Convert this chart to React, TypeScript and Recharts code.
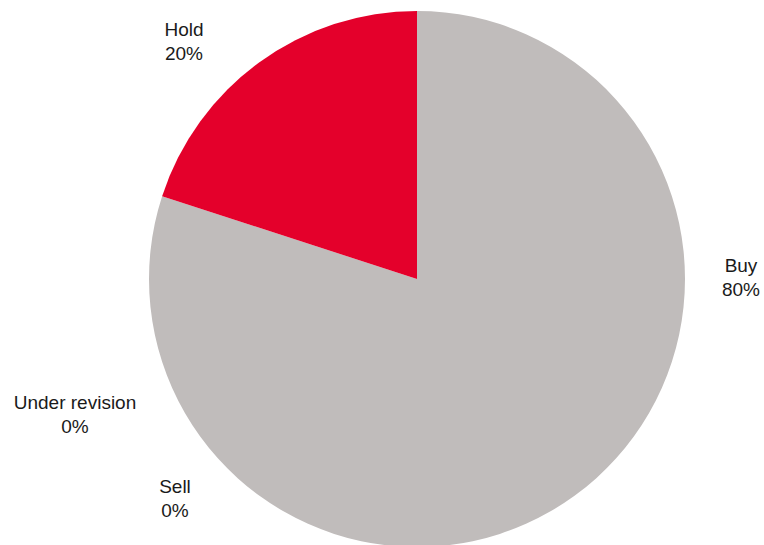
import React from 'react';
import { PieChart, Pie, Cell } from 'recharts';

const categories = ['Buy', 'Hold', 'Sell', 'Under revision'];
const shares = [80, 20, 0, 0];
const colors = ['#C0BCBB', '#E4002B', '#C0BCBB', '#C0BCBB'];

// label anchor offsets from the pie centre (text centre, first baseline)
const labelOffsets: Record<string, [number, number]> = {
  Buy: [324, -7],
  Hold: [-233, -243],
  Sell: [-242, 214],
  'Under revision': [-342, 130],
};

const data = categories.map((name, i) => ({ name, value: shares[i] }));

const renderLabel = (props: any) => {
  const { cx, cy, name, value } = props;
  const off = labelOffsets[name];
  if (!off) return null;
  const x = cx + off[0];
  const y = cy + off[1];
  return (
    <text
      key={name}
      x={x}
      y={y}
      textAnchor="middle"
      fill="#1a1a1a"
      fontSize={19}
      fontFamily="'Liberation Sans', Arial, sans-serif"
    >
      <tspan x={x} dy={0}>{name}</tspan>
      <tspan x={x} dy={24}>{`${value}%`}</tspan>
    </text>
  );
};

export default function App() {
  return (
    <div style={{ position: 'absolute', left: 0, top: 0, width: 764, height: 545, background: '#fff' }}>
      <PieChart width={764} height={545} margin={{ top: 0, right: 0, bottom: 0, left: 0 }}>
        <Pie
          data={data}
          dataKey="value"
          nameKey="name"
          cx={417}
          cy={279}
          outerRadius={268}
          startAngle={90}
          endAngle={-270}
          stroke="none"
          labelLine={false}
          label={renderLabel}
          isAnimationActive={false}
        >
          {data.map((d, i) => (
            <Cell key={d.name} fill={colors[i]} />
          ))}
        </Pie>
      </PieChart>
    </div>
  );
}
